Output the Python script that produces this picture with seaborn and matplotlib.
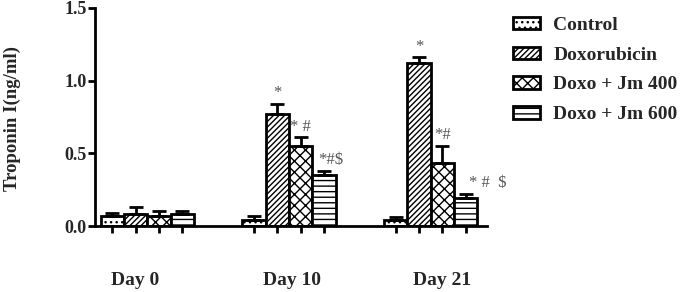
import numpy as np
import pandas as pd
import matplotlib
matplotlib.use('Agg')
import matplotlib.pyplot as plt
import seaborn as sns

DAYS = ['Day 0', 'Day 10', 'Day 21']
GROUPS = ['Control', 'Doxorubicin', 'Doxo + Jm 400', 'Doxo + Jm 600']

CONTROL = [0.07, 0.04, 0.04]
DOXO = [0.08, 0.77, 1.12]
JM400 = [0.07, 0.55, 0.43]
JM600 = [0.08, 0.35, 0.19]

CONTROL_ERR = [0.02, 0.03, 0.02]
DOXO_ERR = [0.05, 0.07, 0.04]
JM400_ERR = [0.03, 0.06, 0.12]
JM600_ERR = [0.02, 0.03, 0.03]

# significance marks: (group, day) -> text
MARKS = {
    ('Doxorubicin', 'Day 10'): '*',
    ('Doxo + Jm 400', 'Day 10'): '* #',
    ('Doxo + Jm 600', 'Day 10'): '*#$',
    ('Doxorubicin', 'Day 21'): '*',
    ('Doxo + Jm 400', 'Day 21'): '*#',
    ('Doxo + Jm 600', 'Day 21'): '* #  $',
}

HATCHES = ['...', '//////', 'xxx', '---']
LABEL_SHIFT = [-0.09, 0.02, 0.08]


def main():
    values = [CONTROL, DOXO, JM400, JM600]
    errs = [CONTROL_ERR, DOXO_ERR, JM400_ERR, JM600_ERR]
    rows = []
    for g, vals, es in zip(GROUPS, values, errs):
        for d, v, e in zip(DAYS, vals, es):
            rows.append({'day': d, 'group': g, 'value': v, 'err': e})
    df = pd.DataFrame(rows)

    sns.set_style('ticks')
    plt.rcParams['font.family'] = ['Liberation Serif', 'DejaVu Serif']
    plt.rcParams['font.weight'] = 'bold'
    plt.rcParams['hatch.linewidth'] = 1.0

    fig = plt.figure(figsize=(6.99, 2.92), dpi=100)
    ax = fig.add_axes([0.136, 0.226, 0.561, 0.747])

    sns.barplot(data=df, x='day', y='value', hue='group', order=DAYS,
                hue_order=GROUPS, palette={g: 'white' for g in GROUPS},
                saturation=1.0, width=0.66, errorbar=None,
                edgecolor='black', linewidth=2, ax=ax)

    # hatches per hue, error bars and marks
    bar_containers = list(ax.containers)
    centers = []
    for gi, cont in enumerate(bar_containers):
        g = GROUPS[gi]
        for di, bar in enumerate(cont):
            bar.set_hatch(HATCHES[gi])
            bar.set_facecolor('white')
            bar.set_edgecolor('black')
            cx = bar.get_x() + bar.get_width() / 2
            h = bar.get_height()
            e = errs[gi][di]
            centers.append(cx)
            ax.errorbar(cx, h, yerr=[[0], [e]], fmt='none', ecolor='black',
                        elinewidth=2, capsize=5, capthick=2, zorder=5)
            key = (g, DAYS[di])
            if key in MARKS:
                txt = MARKS[key]
                dx = 0
                if gi == 3:
                    dx = 5 if di == 1 else 16
                ax.annotate(txt, (cx, h + e), xytext=(dx, 2),
                            textcoords='offset points', ha='center',
                            va='bottom', fontsize=12, color='#555555',
                            fontweight='normal')

    ax.set_ylim(0, 1.5)
    ax.set_xlim(-0.37, 2.40)
    ax.set_yticks([0.0, 0.5, 1.0, 1.5])
    ax.set_yticklabels(['0.0', '0.5', '1.0', '1.5'], fontsize=13,
                       fontweight='bold')
    ax.set_xticks(sorted(centers))
    ax.set_xticklabels([])
    ax.tick_params(axis='both', width=2, length=5, color='black', pad=1)
    ax.set_xlabel('')
    ax.set_ylabel('')
    for s in ['left', 'bottom']:
        ax.spines[s].set_linewidth(2)
        ax.spines[s].set_color('black')
    sns.despine(ax=ax)

    fig.text(0.018, 1 - 118 / 292, 'Troponin I(ng/ml)', rotation=90,
             ha='center', va='center', fontsize=13.5, fontweight='bold')

    for i, d in enumerate(DAYS):
        ax.text(i + LABEL_SHIFT[i], -0.25, d,
                transform=ax.get_xaxis_transform(),
                ha='center', va='center', fontsize=14, fontweight='bold')

    handles, labels = ax.get_legend_handles_labels()
    for h, hatch in zip(handles, HATCHES):
        h.set_hatch(hatch)
        h.set_facecolor('white')
        h.set_edgecolor('black')
        h.set_linewidth(2)
    ax.legend(handles, labels, loc='upper left',
              bbox_to_anchor=(1.02, 1.04), frameon=False,
              handlelength=1.4, handleheight=0.6, labelspacing=0.66,
              handletextpad=0.7,
              prop={'family': ['Liberation Serif', 'DejaVu Serif'],
                    'size': 14, 'weight': 'bold'})

    fig.savefig('out.png', dpi=100, facecolor='white')
    plt.close(fig)


if __name__ == '__main__':
    main()
